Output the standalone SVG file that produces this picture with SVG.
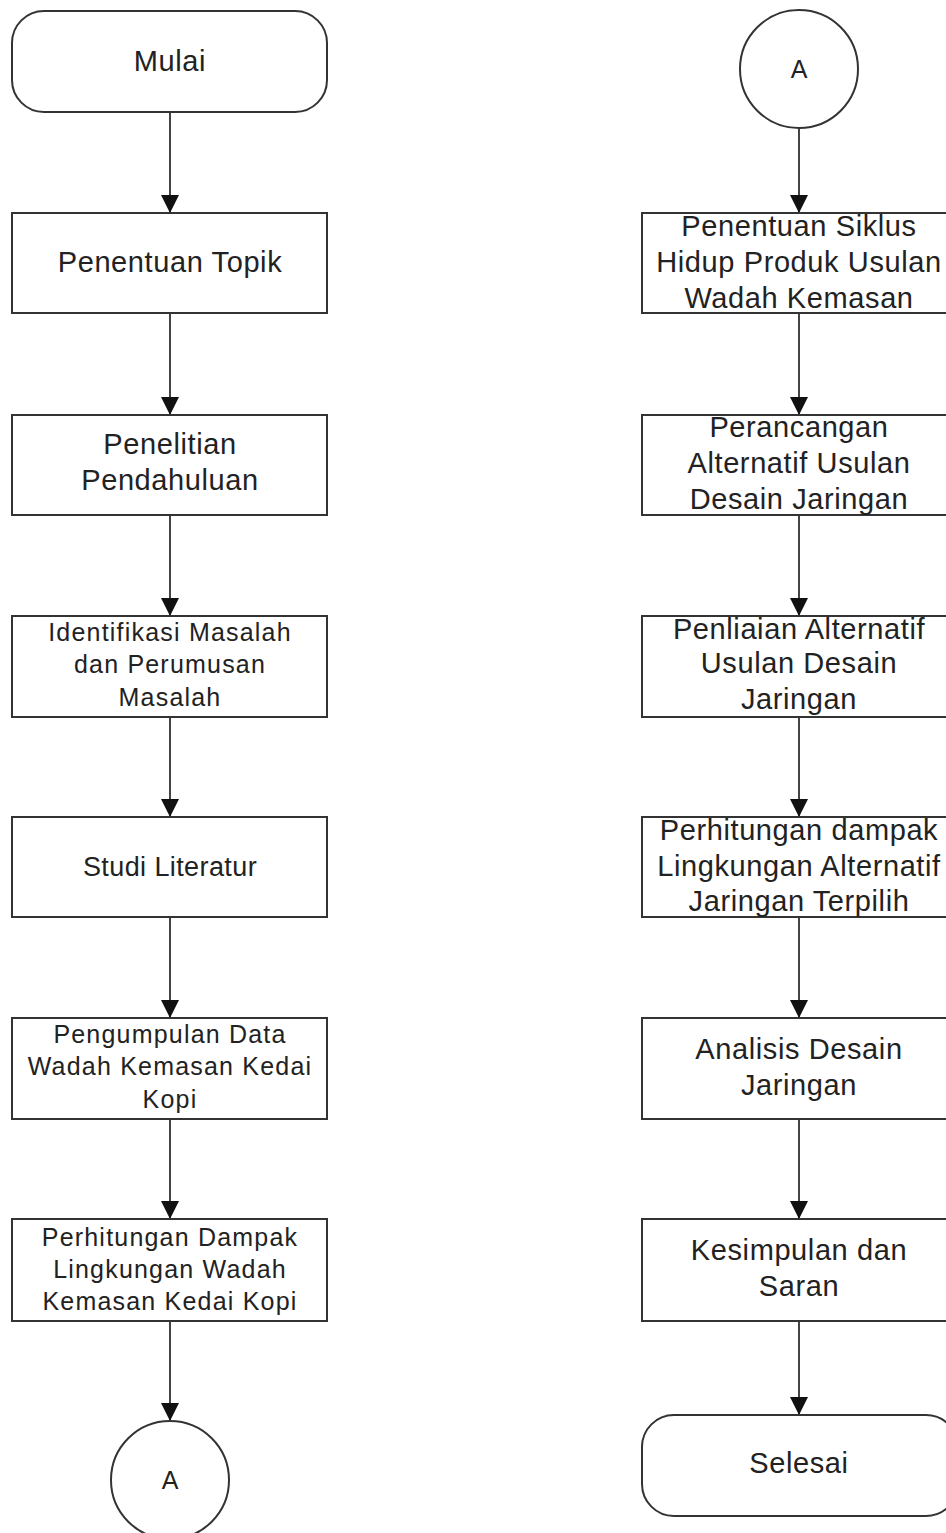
<svg xmlns="http://www.w3.org/2000/svg" width="946" height="1533" viewBox="0 0 946 1533">
<style>
.box{fill:#fff;stroke:#333;stroke-width:2}
.edge{stroke:#444;stroke-width:2;fill:none;marker-end:url(#arr)}
text{font-family:"Liberation Sans",Arial,sans-serif;fill:#222;text-anchor:middle}
.l{font-size:29px;letter-spacing:0.6px}
.s{font-size:25px;letter-spacing:1.2px}
.m{font-size:27px;letter-spacing:0.4px}
.c{font-size:25px}
</style>
<defs>
<marker id="arr" viewBox="0 0 18 18" refX="18" refY="9" markerWidth="18" markerHeight="18" markerUnits="userSpaceOnUse" orient="auto">
<path d="M0,0 L18,9 L0,18 z" fill="#111"/>
</marker>
</defs>
<rect width="946" height="1533" fill="#fff"/>
<g id="connectors">
<line class="edge" x1="170" y1="112" x2="170" y2="213"/>
<line class="edge" x1="170" y1="313" x2="170" y2="415"/>
<line class="edge" x1="170" y1="515" x2="170" y2="616"/>
<line class="edge" x1="170" y1="717" x2="170" y2="817"/>
<line class="edge" x1="170" y1="917" x2="170" y2="1018"/>
<line class="edge" x1="170" y1="1119" x2="170" y2="1219"/>
<line class="edge" x1="170" y1="1321" x2="170" y2="1421"/>
<line class="edge" x1="799" y1="127" x2="799" y2="213"/>
<line class="edge" x1="799" y1="313" x2="799" y2="415"/>
<line class="edge" x1="799" y1="515" x2="799" y2="616"/>
<line class="edge" x1="799" y1="717" x2="799" y2="817"/>
<line class="edge" x1="799" y1="917" x2="799" y2="1018"/>
<line class="edge" x1="799" y1="1119" x2="799" y2="1219"/>
<line class="edge" x1="799" y1="1321" x2="799" y2="1415"/>
</g>
<g id="mulai"><rect class="box" x="12" y="11" width="315" height="101" rx="32"/><text class="l" x="170" y="71">Mulai</text></g>
<g id="topik"><rect class="box" x="12" y="213" width="315" height="100"/><text class="l" x="170" y="272">Penentuan Topik</text></g>
<g id="penelitian"><rect class="box" x="12" y="415" width="315" height="100"/><text class="l" x="170" y="454">Penelitian</text><text class="l" x="170" y="490">Pendahuluan</text></g>
<g id="identifikasi"><rect class="box" x="12" y="616" width="315" height="101"/><text class="s" x="170" y="641">Identifikasi Masalah</text><text class="s" x="170" y="673">dan Perumusan</text><text class="s" x="170" y="706">Masalah</text></g>
<g id="studi"><rect class="box" x="12" y="817" width="315" height="100"/><text class="m" x="170" y="876">Studi Literatur</text></g>
<g id="pengumpulan"><rect class="box" x="12" y="1018" width="315" height="101"/><text class="s" x="170" y="1043">Pengumpulan Data</text><text class="s" x="170" y="1075">Wadah Kemasan Kedai</text><text class="s" x="170" y="1108">Kopi</text></g>
<g id="perhitungan1"><rect class="box" x="12" y="1219" width="315" height="102"/><text class="s" x="170" y="1246">Perhitungan Dampak</text><text class="s" x="170" y="1278">Lingkungan Wadah</text><text class="s" x="170" y="1310">Kemasan Kedai Kopi</text></g>
<g id="connA1"><circle class="box" cx="170" cy="1480" r="59"/><text class="c" x="170" y="1489">A</text></g>
<g id="connA2"><circle class="box" cx="799" cy="69" r="59"/><text class="c" x="799" y="78">A</text></g>
<g id="siklus"><rect class="box" x="642" y="213" width="316" height="100"/><text class="l" x="799" y="236">Penentuan Siklus</text><text class="l" x="799" y="272">Hidup Produk Usulan</text><text class="l" x="799" y="308">Wadah Kemasan</text></g>
<g id="perancangan"><rect class="box" x="642" y="415" width="316" height="100"/><text class="l" x="799" y="437">Perancangan</text><text class="l" x="799" y="473">Alternatif Usulan</text><text class="l" x="799" y="509">Desain Jaringan</text></g>
<g id="penilaian"><rect class="box" x="642" y="616" width="316" height="101"/><text class="l" x="799" y="639">Penliaian Alternatif</text><text class="l" x="799" y="673">Usulan Desain</text><text class="l" x="799" y="709">Jaringan</text></g>
<g id="perhitungan2"><rect class="box" x="642" y="817" width="316" height="100"/><text class="l" x="799" y="840">Perhitungan dampak</text><text class="l" x="799" y="876">Lingkungan Alternatif</text><text class="l" x="799" y="911">Jaringan Terpilih</text></g>
<g id="analisis"><rect class="box" x="642" y="1018" width="316" height="101"/><text class="l" x="799" y="1059">Analisis Desain</text><text class="l" x="799" y="1095">Jaringan</text></g>
<g id="kesimpulan"><rect class="box" x="642" y="1219" width="316" height="102"/><text class="l" x="799" y="1260">Kesimpulan dan</text><text class="l" x="799" y="1296">Saran</text></g>
<g id="selesai"><rect class="box" x="642" y="1415" width="316" height="101" rx="32"/><text class="l" x="799" y="1473">Selesai</text></g>
</svg>
